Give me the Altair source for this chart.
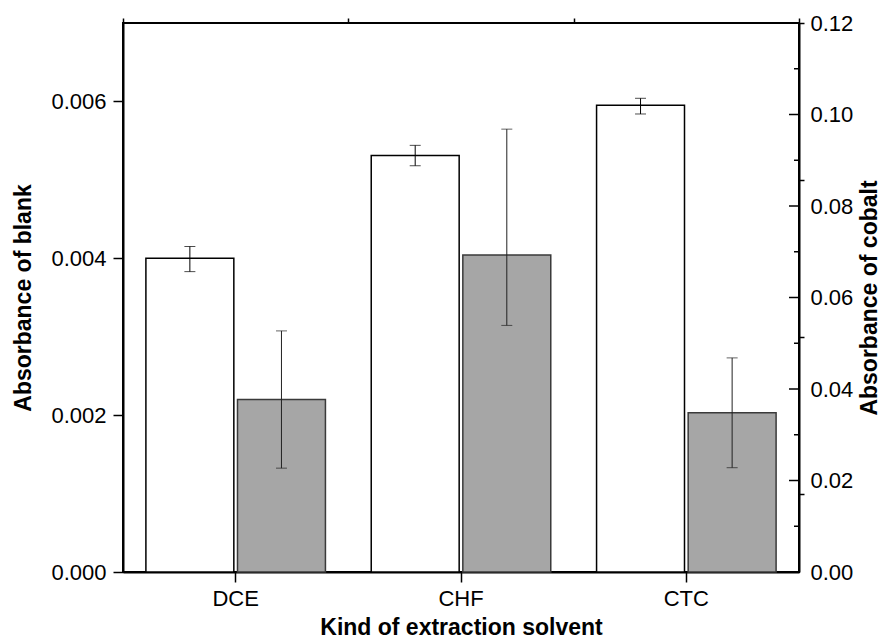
import altair as alt
import pandas as pd

# ---- data ----
categories = ["DCE", "CHF", "CTC"]
blank = [0.00400, 0.00531, 0.00595]
blank_lo = [0.00383, 0.00518, 0.00584]
blank_hi = [0.00415, 0.00544, 0.00604]
cobalt = [0.0377, 0.0693, 0.0348]
cobalt_lo = [0.0227, 0.0539, 0.0228]
cobalt_hi = [0.0527, 0.0968, 0.0468]

left_major = [0.000, 0.002, 0.004, 0.006]
left_minor = [0.001, 0.003, 0.005, 0.007]
right_major = [0.00, 0.02, 0.04, 0.06, 0.08, 0.10, 0.12]
right_minor = [0.01, 0.03, 0.05, 0.07, 0.09, 0.11]

W, H = 676, 549
FONT = "Liberation Sans"

df_b = pd.DataFrame({"cat": categories, "s": "blank", "v": blank, "lo": blank_lo, "hi": blank_hi})
df_c = pd.DataFrame({"cat": categories, "s": "cobalt", "v": cobalt, "lo": cobalt_lo, "hi": cobalt_hi})

x_scale = alt.Scale(domain=categories, paddingInner=0, paddingOuter=0)
xoff_scale = alt.Scale(domain=["blank", "cobalt"], paddingInner=0.04, paddingOuter=0.25)

x_major_axis = alt.Axis(title="Kind of extraction solvent", labelAngle=0, tickSize=10,
                        labelPadding=6, titlePadding=7)
x_minor_axis = alt.Axis(title=None, labels=False, domain=False, tickBand="extent", tickSize=5)

left_major_axis = alt.Axis(values=left_major, format=".3f", title="Absorbance of blank", grid=False,
                           tickSize=10, labelPadding=7, titlePadding=15)
left_minor_axis = alt.Axis(values=left_minor, title=None, labels=False, domain=False, grid=False,
                           tickSize=5)
right_axis = alt.Axis(values=right_major, format=".2f", title="Absorbance of cobalt", grid=False,
                      orient="right", ticks=False, labelPadding=11, titlePadding=6,
                      titleAngle=270, titleBaseline="top")

left_scale = alt.Scale(domain=[0, 0.007], nice=False, zero=True)
right_scale = alt.Scale(domain=[0, 0.12], nice=False, zero=True)


def yb(field, axis):
    return alt.Y(field, type="quantitative", scale=left_scale, axis=axis)


def yc(field):
    return alt.Y(field, type="quantitative", scale=right_scale, axis=right_axis)


# ---- blank group (left axis, white bars) ----
xb = alt.X("cat:N", scale=x_scale, axis=x_major_axis, sort=categories)
xo = alt.XOffset("s:N", scale=xoff_scale)
base_b = alt.Chart(df_b)
bar_b = base_b.mark_bar(fill="white", stroke="black", strokeWidth=1.5).encode(
    x=xb, xOffset=xo, y=yb("v", left_major_axis))
err_b = base_b.mark_rule(color="black", strokeWidth=1).encode(
    x=xb, xOffset=xo, y=yb("lo", left_minor_axis), y2="hi")
caplo_b = base_b.mark_tick(color="black", size=11, thickness=1).encode(
    x=xb, xOffset=xo, y=yb("lo", left_minor_axis))
caphi_b = base_b.mark_tick(color="black", size=11, thickness=1).encode(
    x=xb, xOffset=xo, y=yb("hi", left_minor_axis))
group_b = alt.layer(bar_b, alt.layer(err_b, caplo_b, caphi_b)).resolve_axis(y="independent")

# ---- cobalt group (right axis, gray bars) ----
xc = alt.X("cat:N", scale=x_scale, axis=x_minor_axis, sort=categories)
base_c = alt.Chart(df_c)
bar_c = base_c.mark_bar(fill="#a6a6a6", stroke="#3a3a3a", strokeWidth=1.5).encode(x=xc, xOffset=xo, y=yc("v"))
err_c = base_c.mark_rule(color="#222222", strokeWidth=1).encode(x=xc, xOffset=xo, y=yc("lo"), y2="hi")
caplo_c = base_c.mark_tick(color="#222222", size=11, thickness=1).encode(x=xc, xOffset=xo, y=yc("lo"))
caphi_c = base_c.mark_tick(color="#222222", size=11, thickness=1).encode(x=xc, xOffset=xo, y=yc("hi"))
tick_major = alt.Chart(pd.DataFrame({"t": right_major})).mark_rule(color="black", strokeWidth=1.5).encode(
    y=yc("t"), x=alt.value(W - 10), x2=alt.value(W))
tick_minor = alt.Chart(pd.DataFrame({"t": right_minor})).mark_rule(color="black", strokeWidth=1.5).encode(
    y=yc("t"), x=alt.value(W - 5), x2=alt.value(W))
group_c = alt.layer(bar_c, err_c, caplo_c, caphi_c, tick_major, tick_minor)

chart = (
    alt.layer(group_b, group_c)
    .resolve_scale(y="independent")
    .resolve_axis(x="independent")
    .properties(width=W, height=H,
                autosize=alt.AutoSizeParams(type="none"),
                padding={"left": 115, "top": 15, "right": 84, "bottom": 66})
    .configure_view(stroke="black", strokeWidth=2)
    .configure_axis(labelFont=FONT, labelFontSize=22, labelColor="black",
                    titleFont=FONT, titleFontSize=23, titleFontWeight="bold", titleColor="black",
                    domainColor="black", domainWidth=2, tickColor="black", tickWidth=1.5)
)

chart.save("out.html", embed_options={"renderer": "svg", "actions": False})
